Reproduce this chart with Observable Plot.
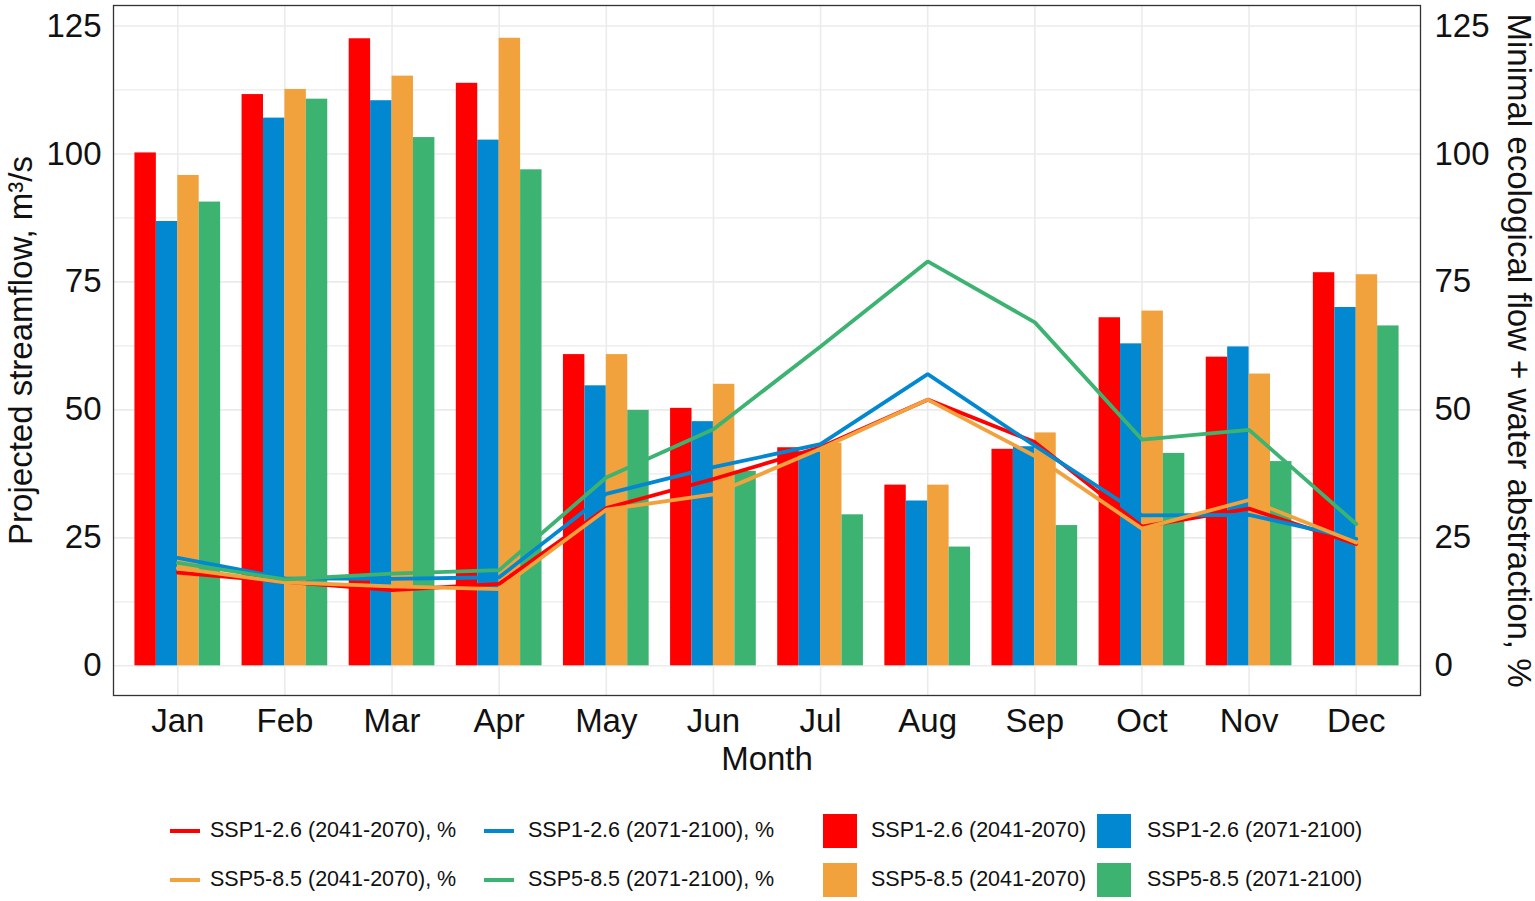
<!DOCTYPE html>
<html>
<head>
<meta charset="utf-8">
<script src="https://cdn.jsdelivr.net/npm/d3@7"></script>
<script src="https://cdn.jsdelivr.net/npm/@observablehq/plot@0.6"></script>
<style>
  html, body { margin: 0; padding: 0; background: #fff; }
  #wrap { position: relative; width: 1535px; height: 901px; font-family: "Liberation Sans", Arial, sans-serif; }
  .lg { position: absolute; font-size: 21.5px; color: #111; white-space: nowrap; line-height: 1; transform: translateY(-50%); }
  .sw-line { position: absolute; height: 4px; width: 30px; transform: translateY(-50%); }
  .sw-box { position: absolute; width: 34px; height: 34px; transform: translateY(-50%); }
</style>
</head>
<body>
<div id="wrap"></div>
<script>
const months = ["Jan","Feb","Mar","Apr","May","Jun","Jul","Aug","Sep","Oct","Nov","Dec"];
const series = ["SSP1-2.6 (2041-2070)", "SSP1-2.6 (2071-2100)", "SSP5-8.5 (2041-2070)", "SSP5-8.5 (2071-2100)"];
const colors = ["#FF0000", "#0288D1", "#F2A23D", "#3CB371"];

// Projected streamflow, m3/s (bars)
const flowSSP126_2041 = [100.2, 111.6, 122.5, 113.8, 60.8, 50.3, 42.6, 35.3, 42.3, 68.0, 60.3, 76.8];
const flowSSP126_2071 = [86.8, 107.0, 110.4, 102.7, 54.7, 47.7, 41.8, 32.2, 42.8, 62.9, 62.3, 70.0];
const flowSSP585_2041 = [95.8, 112.6, 115.2, 122.6, 60.8, 55.0, 43.5, 35.3, 45.5, 69.3, 57.0, 76.4];
const flowSSP585_2071 = [90.6, 110.7, 103.2, 96.9, 49.9, 38.0, 29.5, 23.2, 27.4, 41.5, 39.9, 66.4];

// Minimal ecological flow + water abstraction, % (lines)
const pctSSP126_2041 = [18.2, 16.4, 14.8, 16.0, 30.8, 36.5, 42.7, 52.0, 43.7, 27.2, 30.7, 23.8];
const pctSSP126_2071 = [21.1, 17.1, 17.0, 17.3, 33.6, 38.8, 43.3, 57.0, 43.0, 29.4, 29.5, 24.8];
const pctSSP585_2041 = [19.1, 16.3, 15.5, 15.0, 30.5, 33.5, 42.4, 52.0, 41.0, 26.8, 32.4, 24.1];
const pctSSP585_2071 = [20.1, 16.9, 18.0, 18.7, 36.8, 46.2, 62.4, 79.0, 67.1, 44.2, 46.1, 27.7];

const yTicks = [0, 25, 50, 75, 100, 125];
const yMinor = [12.5, 37.5, 62.5, 87.5, 112.5];

const lineLegend = ["SSP1-2.6 (2041-2070), %", "SSP1-2.6 (2071-2100), %", "SSP5-8.5 (2041-2070), %", "SSP5-8.5 (2071-2100), %"];

const flows = [flowSSP126_2041, flowSSP126_2071, flowSSP585_2041, flowSSP585_2071];
const pcts = [pctSSP126_2041, pctSSP126_2071, pctSSP585_2041, pctSSP585_2071];

const bars = [];
flows.forEach((arr, k) => arr.forEach((v, i) => bars.push({m: i + 1, k, series: series[k], value: v})));
const lines = [];
pcts.forEach((arr, k) => arr.forEach((v, i) => lines.push({m: i + 1, k, series: series[k], value: v})));

const monthIdx = months.map((d, i) => i + 1);

const chart = Plot.plot({
  width: 1535,
  height: 790,
  marginLeft: 113,
  marginRight: 115,
  marginTop: 5,
  marginBottom: 95,
  style: {fontFamily: "Liberation Sans, Arial, sans-serif", fontSize: "33px", background: "white", color: "#111", overflow: "visible"},
  x: {type: "linear", domain: [0.4, 12.6], axis: null},
  y: {domain: [-5.8, 129], axis: null},
  color: {domain: series, range: colors},
  marks: [
    Plot.gridY(yMinor, {stroke: "#ebebeb", strokeOpacity: 1, strokeWidth: 1.2}),
    Plot.gridY(yTicks, {stroke: "#ebebeb", strokeOpacity: 1, strokeWidth: 1.6}),
    Plot.gridX(monthIdx, {stroke: "#ebebeb", strokeOpacity: 1, strokeWidth: 1.6}),
    Plot.rect(bars, {
      x1: d => d.m - 0.4 + d.k * 0.2,
      x2: d => d.m - 0.2 + d.k * 0.2,
      y1: 0,
      y2: "value",
      fill: "series"
    }),
    Plot.line(lines, {x: "m", y: "value", stroke: "series", z: "series", strokeWidth: 3.8, strokeLinejoin: "miter"}),
    Plot.frame({stroke: "#333", strokeWidth: 1.3}),
    Plot.axisY(yTicks, {anchor: "left", tickSize: 0, tickPadding: 12, label: null, fontSize: 33}),
    Plot.axisY(yTicks, {anchor: "right", tickSize: 0, tickPadding: 14, label: null, fontSize: 33}),
    Plot.axisX(monthIdx, {anchor: "bottom", tickSize: 0, tickPadding: 13, label: null, fontSize: 33, tickFormat: d => months[d - 1]}),
    Plot.text(["Month"], {frameAnchor: "bottom", dy: 64, fontSize: 33, textAnchor: "middle", lineAnchor: "middle"}),
    Plot.text(["Projected streamflow, m³/s"], {frameAnchor: "left", rotate: -90, dx: -92, fontSize: 33, textAnchor: "middle", lineAnchor: "middle"}),
    Plot.text(["Minimal ecological flow + water abstraction, %"], {frameAnchor: "right", rotate: 90, dx: 98, fontSize: 33, textAnchor: "middle", lineAnchor: "middle"})
  ]
});

const wrap = document.getElementById("wrap");
chart.style.position = "absolute";
chart.style.left = "0px";
chart.style.top = "0px";
wrap.appendChild(chart);

// Legend (below the chart)
const rowsY = [831, 880];
const lineSwX = [170, 484];
const lineTxX = [210, 528];
const boxX = [823, 1097];
const boxTxX = [871, 1147];
series.forEach((s, k) => {
  const col = k % 2, row = Math.floor(k / 2);
  const sw = document.createElement("div");
  sw.className = "sw-line";
  sw.style.left = lineSwX[col] + "px";
  sw.style.top = rowsY[row] + "px";
  sw.style.background = colors[k];
  wrap.appendChild(sw);
  const t = document.createElement("div");
  t.className = "lg";
  t.style.left = lineTxX[col] + "px";
  t.style.top = rowsY[row] + "px";
  t.textContent = lineLegend[k];
  wrap.appendChild(t);

  const b = document.createElement("div");
  b.className = "sw-box";
  b.style.left = boxX[col] + "px";
  b.style.top = rowsY[row] + "px";
  b.style.background = colors[k];
  wrap.appendChild(b);
  const t2 = document.createElement("div");
  t2.className = "lg";
  t2.style.left = boxTxX[col] + "px";
  t2.style.top = rowsY[row] + "px";
  t2.textContent = s;
  wrap.appendChild(t2);
});
</script>
</body>
</html>
